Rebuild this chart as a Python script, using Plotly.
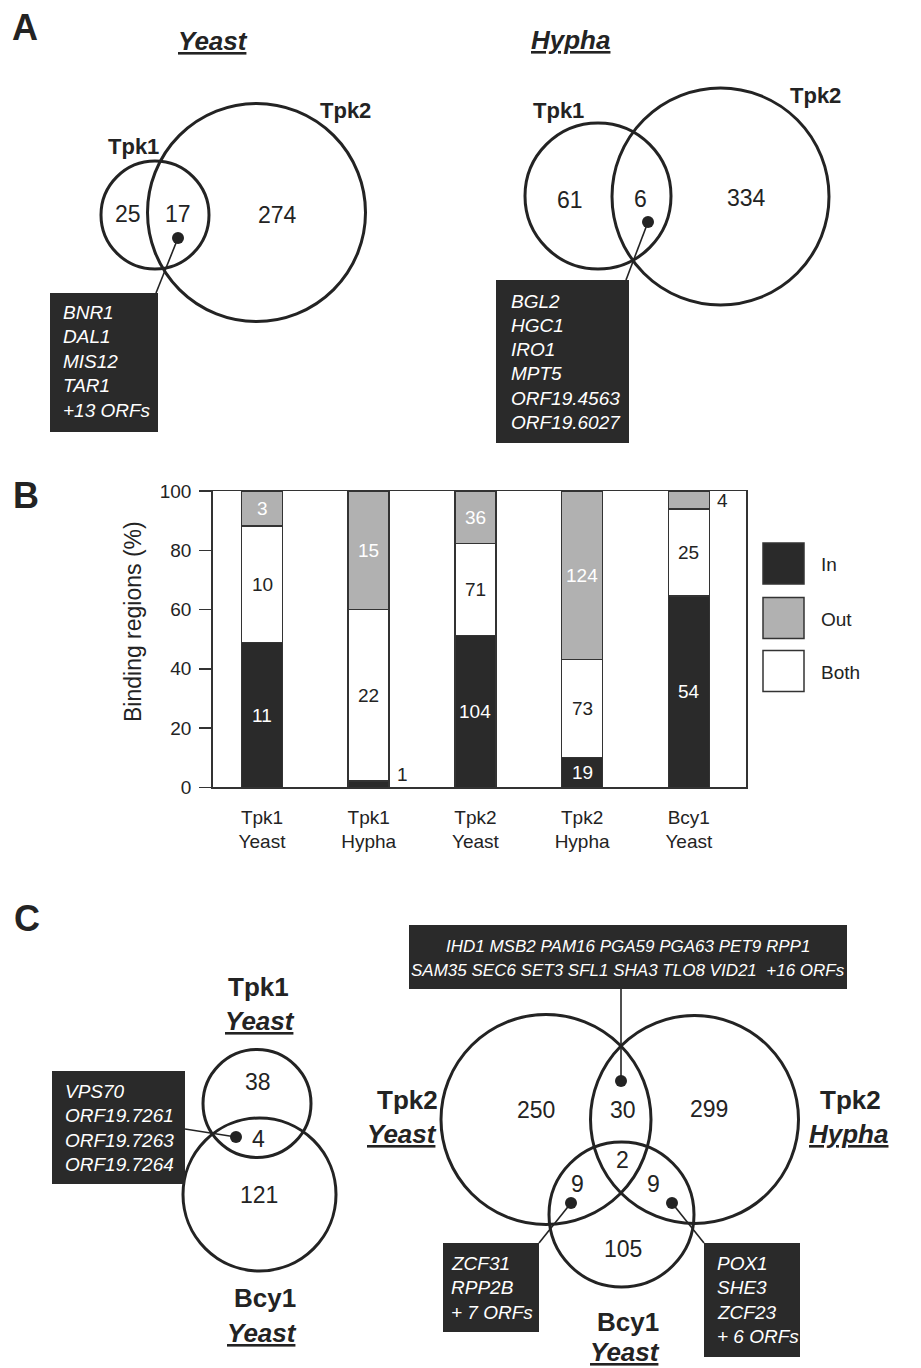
import plotly.graph_objects as go

W, H = 921, 1368
FONT = "Liberation Sans, Arial, Helvetica, sans-serif"
INK = "#232323"
BOXC = "#2a2a2a"
GRAY = "#b1b1b1"

# ---------------- data ----------------
# Panel A
a_yeast_counts = [25, 17, 274]          # Tpk1 only, both, Tpk2 only
a_hypha_counts = [61, 6, 334]
a_yeast_genes = ["BNR1", "DAL1", "MIS12", "TAR1", "+13 ORFs"]
a_hypha_genes = ["BGL2", "HGC1", "IRO1", "MPT5", "ORF19.4563", "ORF19.6027"]

# Panel B
bar_categories = ["Tpk1<br>Yeast", "Tpk1<br>Hypha", "Tpk2<br>Yeast", "Tpk2<br>Hypha", "Bcy1<br>Yeast"]
pct_in = [48.8, 2.2, 51.2, 10.1, 64.6]
pct_both = [39.4, 57.8, 31.1, 33.1, 29.3]
pct_out = [11.8, 40.0, 17.7, 56.8, 6.1]
count_in = [11, 1, 104, 19, 54]
count_both = [10, 22, 71, 73, 25]
count_out = [3, 15, 36, 124, 4]
series_names = ["In", "Out", "Both"]
y_ticks = [0, 20, 40, 60, 80, 100]

# Panel C
c_left_counts = [38, 4, 121]            # Tpk1 only, both, Bcy1 only
c_left_genes = ["VPS70", "ORF19.7261", "ORF19.7263", "ORF19.7264"]
# Tpk2Y only, Tpk2Y&Tpk2H, Tpk2H only, Tpk2Y&Bcy1, all three, Tpk2H&Bcy1, Bcy1 only
c_right_counts = [250, 30, 299, 9, 2, 9, 105]
c_top_genes = ["IHD1 MSB2 PAM16 PGA59 PGA63 PET9 RPP1",
               "SAM35 SEC6 SET3 SFL1 SHA3 TLO8 VID21  +16 ORFs"]
c_bl_genes = ["ZCF31", "RPP2B", "+ 7 ORFs"]
c_br_genes = ["POX1", "SHE3", "ZCF23", "+ 6 ORFs"]

# ---------------- figure ----------------
fig = go.Figure()

x_pos = list(range(len(bar_categories)))
bar_w = 0.384
fills = {"In": BOXC, "Out": GRAY, "Both": "white"}
stack = [("In", pct_in), ("Both", pct_both), ("Out", pct_out)]
for name, vals in stack:
    fig.add_trace(go.Bar(
        x=x_pos, y=vals, width=bar_w, name=name, showlegend=False,
        marker=dict(color=fills[name], line=dict(color="#333333", width=1.5)),
        hoverinfo="skip", xaxis="x", yaxis="y"))

annotations = []
shapes = []

def px_text(x, y, text, size, color=INK, xanchor="center", yanchor="middle", **kw):
    annotations.append(dict(x=x, y=y, xref="x2", yref="y2", text=text, showarrow=False,
                            font=dict(family=FONT, size=size, color=color),
                            xanchor=xanchor, yanchor=yanchor, **kw))

# bar labels from data
counts = {"In": count_in, "Both": count_both, "Out": count_out}
for i in x_pos:
    base = 0.0
    for name, vals in stack:
        v = vals[i]
        mid = base + v / 2
        col = INK if name == "Both" else "white"
        if v < 8:
            annotations.append(dict(x=i + bar_w / 2, y=max(mid, 4.2), xref="x", yref="y",
                                    text=str(counts[name][i]), showarrow=False,
                                    xanchor="left", yanchor="middle", xshift=6,
                                    font=dict(family=FONT, size=19, color=INK)))
        else:
            annotations.append(dict(x=i, y=mid, xref="x", yref="y",
                                    text=str(counts[name][i]), showarrow=False,
                                    font=dict(family=FONT, size=19, color=col)))
        base += v

# y axis title
px_text(133, 622, "Binding regions (%)", 23, textangle=-90)

# legend (manual squares)
leg_y = [563.5, 618, 671]
for name, yy in zip(series_names, leg_y):
    shapes.append(dict(type="rect", xref="x2", yref="y2", x0=763, x1=804, y0=yy - 20.5, y1=yy + 20.5,
                       fillcolor=fills[name], line=dict(color="#333333", width=1.5)))
    px_text(819, yy + 1, name, 19, xanchor="left")

# panel letters
for lab, (lx, ly) in zip(["A", "B", "C"], [(25, 27), (25.5, 495), (26.5, 918.5)]):
    px_text(lx, ly, "<b>" + lab + "</b>", 36)

def circle(cx, cy, r, width=3):
    shapes.append(dict(type="circle", xref="x2", yref="y2", x0=cx - r, x1=cx + r,
                       y0=cy - r, y1=cy + r, line=dict(color=INK, width=width)))

def dot(cx, cy, r=6):
    shapes.append(dict(type="circle", xref="x2", yref="y2", x0=cx - r, x1=cx + r,
                       y0=cy - r, y1=cy + r, fillcolor=INK, line=dict(color=INK, width=0)))

def seg(x0, y0, x1, y1):
    shapes.append(dict(type="line", xref="x2", yref="y2", x0=x0, y0=y0, x1=x1, y1=y1,
                       line=dict(color=INK, width=1.6)))

def genebox(x0, y0, x1, y1, lines, tx, ty0, dy, size=19, center=False):
    shapes.append(dict(type="rect", xref="x2", yref="y2", x0=x0, x1=x1, y0=y0, y1=y1,
                       fillcolor=BOXC, line=dict(width=0)))
    for k, t in enumerate(lines):
        px_text(tx, ty0 + k * dy, "<i>" + t + "</i>", size, color="white",
                xanchor="center" if center else "left")

# ----- Panel A: Yeast -----
px_text(213, 41, "<b><i><u>Yeast</u></i></b>", 26)
circle(155, 215, 54)
circle(256.5, 212.5, 109)
px_text(133, 146, "<b>Tpk1</b>", 22)
px_text(345, 110, "<b>Tpk2</b>", 22)
for v, (x, y) in zip(a_yeast_counts, [(128, 214), (178, 214), (277, 215)]):
    px_text(x, y, str(v), 23)
dot(178, 238)
seg(178, 238, 156, 293)
genebox(50, 293, 158, 432, a_yeast_genes, 61, 312, 24.5)

# ----- Panel A: Hypha -----
px_text(570, 40, "<b><i><u>Hypha</u></i></b>", 26)
circle(598, 196, 73)
circle(720.5, 196.5, 108.5)
px_text(558, 110, "<b>Tpk1</b>", 22)
px_text(815, 95, "<b>Tpk2</b>", 22)
for v, (x, y) in zip(a_hypha_counts, [(570, 200), (640, 199), (746, 198)]):
    px_text(x, y, str(v), 23)
dot(648, 222)
seg(648, 222, 626, 280)
genebox(496, 280, 629, 443, a_hypha_genes, 509, 301, 24.3)

# ----- Panel C: left -----
px_text(258, 987, "<b>Tpk1</b>", 26)
px_text(260, 1021, "<b><i><u>Yeast</u></i></b>", 26)
circle(257, 1103.5, 54)
circle(259.5, 1194.5, 76.5)
for v, (x, y) in zip(c_left_counts, [(258, 1082), (258, 1139), (259, 1195)]):
    px_text(x, y, str(v), 23)
dot(236, 1137)
seg(236, 1137, 185, 1129)
genebox(52, 1071, 185, 1184, c_left_genes, 63, 1091, 24.5)
px_text(265, 1298, "<b>Bcy1</b>", 26)
px_text(262, 1333, "<b><i><u>Yeast</u></i></b>", 26)

# ----- Panel C: right -----
circle(546, 1119.5, 105)
circle(694.5, 1119.5, 104)
circle(621.5, 1214.5, 72.5)
px_text(407, 1100, "<b>Tpk2</b>", 26)
px_text(402, 1134, "<b><i><u>Yeast</u></i></b>", 26)
px_text(850, 1100, "<b>Tpk2</b>", 26)
px_text(848, 1134, "<b><i><u>Hypha</u></i></b>", 26)
px_text(628, 1322, "<b>Bcy1</b>", 26)
px_text(625, 1352, "<b><i><u>Yeast</u></i></b>", 26)
c_pos = [(536, 1110), (623, 1110), (709, 1109), (577, 1184), (622, 1160), (653, 1184), (623, 1249)]
for v, (x, y) in zip(c_right_counts, c_pos):
    px_text(x, y, str(v), 23)
genebox(409, 925, 847, 989, c_top_genes, 628, 946, 24, size=17, center=True)
dot(621, 1081)
seg(621, 989, 621, 1081)
dot(571, 1203)
seg(571, 1203, 539, 1243)
genebox(443, 1243, 539, 1332, c_bl_genes, 449, 1263, 24.5)
dot(672, 1203)
seg(672, 1203, 704, 1243)
genebox(704, 1243, 800, 1357, c_br_genes, 715, 1263, 24.5)

# ---------------- layout ----------------
x_dom = [212.7 / W, 746 / W]
y_dom = [1 - 787.3 / H, 1 - 491 / H]
fig.update_layout(
    width=W, height=H, margin=dict(l=0, r=0, t=0, b=0, autoexpand=False),
    paper_bgcolor="white", plot_bgcolor="rgba(0,0,0,0)",
    barmode="stack", bargap=0,
    font=dict(family=FONT, size=19, color=INK),
    xaxis=dict(domain=x_dom, range=[-0.462, 4.536], tickvals=x_pos, ticktext=bar_categories,
               showline=True, mirror=True, linecolor="#333333", linewidth=1.5,
               ticks="", showgrid=False, zeroline=False, ticklabelstandoff=12,
               automargin=False,
               tickfont=dict(family=FONT, size=19, color=INK), fixedrange=True),
    yaxis=dict(domain=y_dom, range=[0, 100], tickvals=y_ticks,
               showline=True, mirror=True, linecolor="#333333", linewidth=1.5,
               ticks="outside", ticklen=12, tickwidth=1.5, tickcolor="#333333",
               showgrid=False, zeroline=False, ticklabelstandoff=4, automargin=False,
               tickfont=dict(family=FONT, size=19, color=INK), fixedrange=True),
    xaxis2=dict(domain=[0, 1], range=[0, W], visible=False, anchor="y2", fixedrange=True,
                automargin=False),
    yaxis2=dict(domain=[0, 1], range=[H, 0], visible=False, anchor="x2", fixedrange=True,
                automargin=False),
    shapes=shapes, annotations=annotations,
)
# invisible trace to activate the overlay (pixel) axes
fig.add_trace(go.Scatter(x=[0], y=[0], xaxis="x2", yaxis="y2", mode="markers",
                         marker=dict(opacity=0), showlegend=False, hoverinfo="skip"))

fig.write_html("out.html", config={"displayModeBar": False, "staticPlot": True},
               post_script="document.body.style.margin='0px';document.body.style.overflow='hidden';")
